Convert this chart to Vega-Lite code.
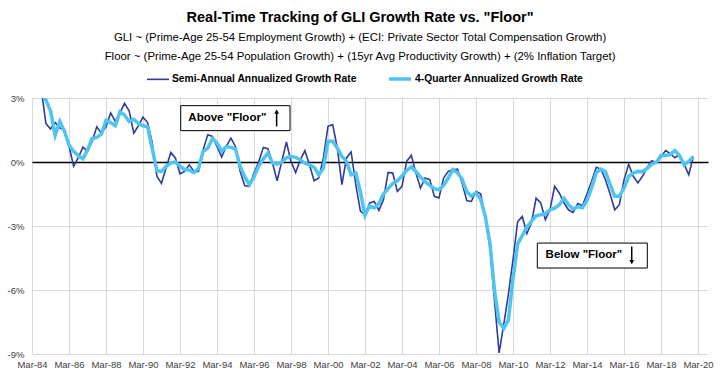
{
  "$schema": "https://vega.github.io/schema/vega-lite/v6.json",
  "width": 676,
  "height": 256,
  "autosize": {"type": "none"},
  "padding": {"left": 32, "top": 98, "right": 12, "bottom": 23},
  "background": "white",
  "config": {"view": {"stroke": null}, "font": "Liberation Sans"},
  "title": {
    "text": "Real-Time Tracking of GLI Growth Rate vs. \"Floor\"",
    "subtitle": ["GLI ~ (Prime-Age 25-54 Employment Growth) + (ECI: Private Sector Total Compensation Growth)", "Floor ~ (Prime-Age 25-54 Population Growth) + (15yr Avg Productivity Growth) + (2% Inflation Target)"],
    "font": "Liberation Sans",
    "fontSize": 14.5,
    "fontWeight": "bold",
    "color": "#000000",
    "subtitleFont": "Liberation Sans",
    "subtitleFontSize": 11.4,
    "subtitleColor": "#000000",
    "subtitleLineHeight": 18.5,
    "subtitlePadding": 7,
    "anchor": "middle",
    "frame": "bounds",
    "offset": 3
  },
  "datasets": {
    "gli": [
      {"date": "1984-09-01", "Semi-Annual Annualized Growth Rate": 3.4, "4-Quarter Annualized Growth Rate": 3.2},
      {"date": "1984-12-01", "Semi-Annual Annualized Growth Rate": 1.8, "4-Quarter Annualized Growth Rate": 2.9},
      {"date": "1985-03-01", "Semi-Annual Annualized Growth Rate": 1.55, "4-Quarter Annualized Growth Rate": 2.4},
      {"date": "1985-06-01", "Semi-Annual Annualized Growth Rate": 1.85, "4-Quarter Annualized Growth Rate": 1.25},
      {"date": "1985-09-01", "Semi-Annual Annualized Growth Rate": 1.6, "4-Quarter Annualized Growth Rate": 1.9},
      {"date": "1985-12-01", "Semi-Annual Annualized Growth Rate": 1.5, "4-Quarter Annualized Growth Rate": 1.45},
      {"date": "1986-03-01", "Semi-Annual Annualized Growth Rate": 0.75, "4-Quarter Annualized Growth Rate": 0.8},
      {"date": "1986-06-01", "Semi-Annual Annualized Growth Rate": -0.2, "4-Quarter Annualized Growth Rate": 0.5},
      {"date": "1986-09-01", "Semi-Annual Annualized Growth Rate": 0.2, "4-Quarter Annualized Growth Rate": 0.3},
      {"date": "1986-12-01", "Semi-Annual Annualized Growth Rate": 0.7, "4-Quarter Annualized Growth Rate": 0.15},
      {"date": "1987-03-01", "Semi-Annual Annualized Growth Rate": 0.5, "4-Quarter Annualized Growth Rate": 0.55},
      {"date": "1987-06-01", "Semi-Annual Annualized Growth Rate": 0.95, "4-Quarter Annualized Growth Rate": 1.1},
      {"date": "1987-09-01", "Semi-Annual Annualized Growth Rate": 1.65, "4-Quarter Annualized Growth Rate": 1.15},
      {"date": "1987-12-01", "Semi-Annual Annualized Growth Rate": 1.35, "4-Quarter Annualized Growth Rate": 1.3},
      {"date": "1988-03-01", "Semi-Annual Annualized Growth Rate": 1.65, "4-Quarter Annualized Growth Rate": 1.95},
      {"date": "1988-06-01", "Semi-Annual Annualized Growth Rate": 2.3, "4-Quarter Annualized Growth Rate": 1.85},
      {"date": "1988-09-01", "Semi-Annual Annualized Growth Rate": 1.9, "4-Quarter Annualized Growth Rate": 1.7},
      {"date": "1988-12-01", "Semi-Annual Annualized Growth Rate": 2.3, "4-Quarter Annualized Growth Rate": 2.35},
      {"date": "1989-03-01", "Semi-Annual Annualized Growth Rate": 2.75, "4-Quarter Annualized Growth Rate": 2.2},
      {"date": "1989-06-01", "Semi-Annual Annualized Growth Rate": 2.4, "4-Quarter Annualized Growth Rate": 1.9},
      {"date": "1989-09-01", "Semi-Annual Annualized Growth Rate": 1.35, "4-Quarter Annualized Growth Rate": 2.0},
      {"date": "1989-12-01", "Semi-Annual Annualized Growth Rate": 1.7, "4-Quarter Annualized Growth Rate": 1.8},
      {"date": "1990-03-01", "Semi-Annual Annualized Growth Rate": 2.1, "4-Quarter Annualized Growth Rate": 1.7},
      {"date": "1990-06-01", "Semi-Annual Annualized Growth Rate": 1.85, "4-Quarter Annualized Growth Rate": 1.65},
      {"date": "1990-09-01", "Semi-Annual Annualized Growth Rate": 0.9, "4-Quarter Annualized Growth Rate": 0.6},
      {"date": "1990-12-01", "Semi-Annual Annualized Growth Rate": -0.67, "4-Quarter Annualized Growth Rate": -0.4},
      {"date": "1991-03-01", "Semi-Annual Annualized Growth Rate": -1.0, "4-Quarter Annualized Growth Rate": -0.45},
      {"date": "1991-06-01", "Semi-Annual Annualized Growth Rate": -0.28, "4-Quarter Annualized Growth Rate": -0.2},
      {"date": "1991-09-01", "Semi-Annual Annualized Growth Rate": 0.45, "4-Quarter Annualized Growth Rate": -0.05},
      {"date": "1991-12-01", "Semi-Annual Annualized Growth Rate": 0.19, "4-Quarter Annualized Growth Rate": 0.0},
      {"date": "1992-03-01", "Semi-Annual Annualized Growth Rate": -0.55, "4-Quarter Annualized Growth Rate": -0.2},
      {"date": "1992-06-01", "Semi-Annual Annualized Growth Rate": -0.44, "4-Quarter Annualized Growth Rate": -0.35},
      {"date": "1992-09-01", "Semi-Annual Annualized Growth Rate": -0.13, "4-Quarter Annualized Growth Rate": -0.38},
      {"date": "1992-12-01", "Semi-Annual Annualized Growth Rate": -0.44, "4-Quarter Annualized Growth Rate": -0.5},
      {"date": "1993-03-01", "Semi-Annual Annualized Growth Rate": -0.44, "4-Quarter Annualized Growth Rate": -0.3},
      {"date": "1993-06-01", "Semi-Annual Annualized Growth Rate": 0.58, "4-Quarter Annualized Growth Rate": 0.5},
      {"date": "1993-09-01", "Semi-Annual Annualized Growth Rate": 1.28, "4-Quarter Annualized Growth Rate": 0.65},
      {"date": "1993-12-01", "Semi-Annual Annualized Growth Rate": 1.2, "4-Quarter Annualized Growth Rate": 1.1},
      {"date": "1994-03-01", "Semi-Annual Annualized Growth Rate": 0.73, "4-Quarter Annualized Growth Rate": 0.9},
      {"date": "1994-06-01", "Semi-Annual Annualized Growth Rate": 0.23, "4-Quarter Annualized Growth Rate": 0.5},
      {"date": "1994-09-01", "Semi-Annual Annualized Growth Rate": 0.73, "4-Quarter Annualized Growth Rate": 0.72},
      {"date": "1994-12-01", "Semi-Annual Annualized Growth Rate": 1.12, "4-Quarter Annualized Growth Rate": 0.68},
      {"date": "1995-03-01", "Semi-Annual Annualized Growth Rate": 0.73, "4-Quarter Annualized Growth Rate": 0.62},
      {"date": "1995-06-01", "Semi-Annual Annualized Growth Rate": -0.44, "4-Quarter Annualized Growth Rate": -0.2},
      {"date": "1995-09-01", "Semi-Annual Annualized Growth Rate": -1.11, "4-Quarter Annualized Growth Rate": -0.7},
      {"date": "1995-12-01", "Semi-Annual Annualized Growth Rate": -1.14, "4-Quarter Annualized Growth Rate": -1.05},
      {"date": "1996-03-01", "Semi-Annual Annualized Growth Rate": -0.52, "4-Quarter Annualized Growth Rate": -0.7},
      {"date": "1996-06-01", "Semi-Annual Annualized Growth Rate": 0.0, "4-Quarter Annualized Growth Rate": -0.2},
      {"date": "1996-09-01", "Semi-Annual Annualized Growth Rate": 0.68, "4-Quarter Annualized Growth Rate": 0.15},
      {"date": "1996-12-01", "Semi-Annual Annualized Growth Rate": 0.62, "4-Quarter Annualized Growth Rate": 0.42},
      {"date": "1997-03-01", "Semi-Annual Annualized Growth Rate": -0.05, "4-Quarter Annualized Growth Rate": -0.05},
      {"date": "1997-06-01", "Semi-Annual Annualized Growth Rate": -0.88, "4-Quarter Annualized Growth Rate": -0.1},
      {"date": "1997-09-01", "Semi-Annual Annualized Growth Rate": 0.03, "4-Quarter Annualized Growth Rate": 0.0},
      {"date": "1997-12-01", "Semi-Annual Annualized Growth Rate": 0.94, "4-Quarter Annualized Growth Rate": 0.2},
      {"date": "1998-03-01", "Semi-Annual Annualized Growth Rate": 0.03, "4-Quarter Annualized Growth Rate": 0.26},
      {"date": "1998-06-01", "Semi-Annual Annualized Growth Rate": -0.49, "4-Quarter Annualized Growth Rate": 0.22},
      {"date": "1998-09-01", "Semi-Annual Annualized Growth Rate": 0.1, "4-Quarter Annualized Growth Rate": 0.1},
      {"date": "1998-12-01", "Semi-Annual Annualized Growth Rate": 0.53, "4-Quarter Annualized Growth Rate": -0.05},
      {"date": "1999-03-01", "Semi-Annual Annualized Growth Rate": -0.13, "4-Quarter Annualized Growth Rate": -0.13},
      {"date": "1999-06-01", "Semi-Annual Annualized Growth Rate": -0.88, "4-Quarter Annualized Growth Rate": -0.25},
      {"date": "1999-09-01", "Semi-Annual Annualized Growth Rate": -0.75, "4-Quarter Annualized Growth Rate": -0.6},
      {"date": "1999-12-01", "Semi-Annual Annualized Growth Rate": 0.19, "4-Quarter Annualized Growth Rate": -0.3},
      {"date": "2000-03-01", "Semi-Annual Annualized Growth Rate": 1.67, "4-Quarter Annualized Growth Rate": 0.97},
      {"date": "2000-06-01", "Semi-Annual Annualized Growth Rate": 1.75, "4-Quarter Annualized Growth Rate": 0.97},
      {"date": "2000-09-01", "Semi-Annual Annualized Growth Rate": 0.66, "4-Quarter Annualized Growth Rate": 0.66},
      {"date": "2000-12-01", "Semi-Annual Annualized Growth Rate": -1.06, "4-Quarter Annualized Growth Rate": 0.26},
      {"date": "2001-03-01", "Semi-Annual Annualized Growth Rate": 0.19, "4-Quarter Annualized Growth Rate": 0.03},
      {"date": "2001-06-01", "Semi-Annual Annualized Growth Rate": 0.47, "4-Quarter Annualized Growth Rate": -0.6},
      {"date": "2001-09-01", "Semi-Annual Annualized Growth Rate": -1.06, "4-Quarter Annualized Growth Rate": -0.52},
      {"date": "2001-12-01", "Semi-Annual Annualized Growth Rate": -2.3, "4-Quarter Annualized Growth Rate": -1.4},
      {"date": "2002-03-01", "Semi-Annual Annualized Growth Rate": -2.47, "4-Quarter Annualized Growth Rate": -2.5},
      {"date": "2002-06-01", "Semi-Annual Annualized Growth Rate": -1.92, "4-Quarter Annualized Growth Rate": -2.05},
      {"date": "2002-09-01", "Semi-Annual Annualized Growth Rate": -1.85, "4-Quarter Annualized Growth Rate": -2.15},
      {"date": "2002-12-01", "Semi-Annual Annualized Growth Rate": -2.27, "4-Quarter Annualized Growth Rate": -1.95},
      {"date": "2003-03-01", "Semi-Annual Annualized Growth Rate": -1.77, "4-Quarter Annualized Growth Rate": -1.5},
      {"date": "2003-06-01", "Semi-Annual Annualized Growth Rate": -0.49, "4-Quarter Annualized Growth Rate": -1.25},
      {"date": "2003-09-01", "Semi-Annual Annualized Growth Rate": -0.52, "4-Quarter Annualized Growth Rate": -1.0},
      {"date": "2003-12-01", "Semi-Annual Annualized Growth Rate": -1.38, "4-Quarter Annualized Growth Rate": -0.88},
      {"date": "2004-03-01", "Semi-Annual Annualized Growth Rate": -1.14, "4-Quarter Annualized Growth Rate": -0.65},
      {"date": "2004-06-01", "Semi-Annual Annualized Growth Rate": 0.03, "4-Quarter Annualized Growth Rate": -0.4},
      {"date": "2004-09-01", "Semi-Annual Annualized Growth Rate": 0.31, "4-Quarter Annualized Growth Rate": -0.23},
      {"date": "2004-12-01", "Semi-Annual Annualized Growth Rate": -0.52, "4-Quarter Annualized Growth Rate": -0.44},
      {"date": "2005-03-01", "Semi-Annual Annualized Growth Rate": -1.22, "4-Quarter Annualized Growth Rate": -0.7},
      {"date": "2005-06-01", "Semi-Annual Annualized Growth Rate": -0.75, "4-Quarter Annualized Growth Rate": -0.92},
      {"date": "2005-09-01", "Semi-Annual Annualized Growth Rate": -0.83, "4-Quarter Annualized Growth Rate": -1.1},
      {"date": "2005-12-01", "Semi-Annual Annualized Growth Rate": -1.61, "4-Quarter Annualized Growth Rate": -1.25},
      {"date": "2006-03-01", "Semi-Annual Annualized Growth Rate": -1.69, "4-Quarter Annualized Growth Rate": -1.3},
      {"date": "2006-06-01", "Semi-Annual Annualized Growth Rate": -0.75, "4-Quarter Annualized Growth Rate": -1.1},
      {"date": "2006-09-01", "Semi-Annual Annualized Growth Rate": -0.44, "4-Quarter Annualized Growth Rate": -0.75},
      {"date": "2006-12-01", "Semi-Annual Annualized Growth Rate": -0.36, "4-Quarter Annualized Growth Rate": -0.35},
      {"date": "2007-03-01", "Semi-Annual Annualized Growth Rate": -0.33, "4-Quarter Annualized Growth Rate": -0.5},
      {"date": "2007-06-01", "Semi-Annual Annualized Growth Rate": -0.98, "4-Quarter Annualized Growth Rate": -0.8},
      {"date": "2007-09-01", "Semi-Annual Annualized Growth Rate": -1.81, "4-Quarter Annualized Growth Rate": -1.4},
      {"date": "2007-12-01", "Semi-Annual Annualized Growth Rate": -1.85, "4-Quarter Annualized Growth Rate": -1.6},
      {"date": "2008-03-01", "Semi-Annual Annualized Growth Rate": -1.38, "4-Quarter Annualized Growth Rate": -1.45},
      {"date": "2008-06-01", "Semi-Annual Annualized Growth Rate": -1.49, "4-Quarter Annualized Growth Rate": -1.75},
      {"date": "2008-09-01", "Semi-Annual Annualized Growth Rate": -2.6, "4-Quarter Annualized Growth Rate": -2.55},
      {"date": "2008-12-01", "Semi-Annual Annualized Growth Rate": -4.0, "4-Quarter Annualized Growth Rate": -3.8},
      {"date": "2009-03-01", "Semi-Annual Annualized Growth Rate": -6.5, "4-Quarter Annualized Growth Rate": -6.0},
      {"date": "2009-06-01", "Semi-Annual Annualized Growth Rate": -8.95, "4-Quarter Annualized Growth Rate": -7.5},
      {"date": "2009-09-01", "Semi-Annual Annualized Growth Rate": -7.6, "4-Quarter Annualized Growth Rate": -7.8},
      {"date": "2009-12-01", "Semi-Annual Annualized Growth Rate": -6.2, "4-Quarter Annualized Growth Rate": -7.4},
      {"date": "2010-03-01", "Semi-Annual Annualized Growth Rate": -4.6, "4-Quarter Annualized Growth Rate": -5.5},
      {"date": "2010-06-01", "Semi-Annual Annualized Growth Rate": -2.8, "4-Quarter Annualized Growth Rate": -3.85},
      {"date": "2010-09-01", "Semi-Annual Annualized Growth Rate": -2.55, "4-Quarter Annualized Growth Rate": -3.45},
      {"date": "2010-12-01", "Semi-Annual Annualized Growth Rate": -3.35, "4-Quarter Annualized Growth Rate": -3.05},
      {"date": "2011-03-01", "Semi-Annual Annualized Growth Rate": -2.86, "4-Quarter Annualized Growth Rate": -2.78},
      {"date": "2011-06-01", "Semi-Annual Annualized Growth Rate": -1.7, "4-Quarter Annualized Growth Rate": -2.52},
      {"date": "2011-09-01", "Semi-Annual Annualized Growth Rate": -1.92, "4-Quarter Annualized Growth Rate": -2.47},
      {"date": "2011-12-01", "Semi-Annual Annualized Growth Rate": -2.7, "4-Quarter Annualized Growth Rate": -2.42},
      {"date": "2012-03-01", "Semi-Annual Annualized Growth Rate": -2.24, "4-Quarter Annualized Growth Rate": -2.24},
      {"date": "2012-06-01", "Semi-Annual Annualized Growth Rate": -1.14, "4-Quarter Annualized Growth Rate": -2.16},
      {"date": "2012-09-01", "Semi-Annual Annualized Growth Rate": -1.45, "4-Quarter Annualized Growth Rate": -2.0},
      {"date": "2012-12-01", "Semi-Annual Annualized Growth Rate": -1.92, "4-Quarter Annualized Growth Rate": -1.7},
      {"date": "2013-03-01", "Semi-Annual Annualized Growth Rate": -2.24, "4-Quarter Annualized Growth Rate": -2.0},
      {"date": "2013-06-01", "Semi-Annual Annualized Growth Rate": -2.36, "4-Quarter Annualized Growth Rate": -2.2},
      {"date": "2013-09-01", "Semi-Annual Annualized Growth Rate": -1.95, "4-Quarter Annualized Growth Rate": -2.1},
      {"date": "2013-12-01", "Semi-Annual Annualized Growth Rate": -2.05, "4-Quarter Annualized Growth Rate": -2.15},
      {"date": "2014-03-01", "Semi-Annual Annualized Growth Rate": -1.5, "4-Quarter Annualized Growth Rate": -1.8},
      {"date": "2014-06-01", "Semi-Annual Annualized Growth Rate": -0.9, "4-Quarter Annualized Growth Rate": -1.2},
      {"date": "2014-09-01", "Semi-Annual Annualized Growth Rate": -0.25, "4-Quarter Annualized Growth Rate": -0.5},
      {"date": "2014-12-01", "Semi-Annual Annualized Growth Rate": -0.33, "4-Quarter Annualized Growth Rate": -0.33},
      {"date": "2015-03-01", "Semi-Annual Annualized Growth Rate": -0.83, "4-Quarter Annualized Growth Rate": -0.45},
      {"date": "2015-06-01", "Semi-Annual Annualized Growth Rate": -1.5, "4-Quarter Annualized Growth Rate": -1.05},
      {"date": "2015-09-01", "Semi-Annual Annualized Growth Rate": -2.24, "4-Quarter Annualized Growth Rate": -1.6},
      {"date": "2015-12-01", "Semi-Annual Annualized Growth Rate": -2.0, "4-Quarter Annualized Growth Rate": -1.6},
      {"date": "2016-03-01", "Semi-Annual Annualized Growth Rate": -0.85, "4-Quarter Annualized Growth Rate": -1.22},
      {"date": "2016-06-01", "Semi-Annual Annualized Growth Rate": -0.1, "4-Quarter Annualized Growth Rate": -0.67},
      {"date": "2016-09-01", "Semi-Annual Annualized Growth Rate": -0.67, "4-Quarter Annualized Growth Rate": -0.52},
      {"date": "2016-12-01", "Semi-Annual Annualized Growth Rate": -0.98, "4-Quarter Annualized Growth Rate": -0.44},
      {"date": "2017-03-01", "Semi-Annual Annualized Growth Rate": -0.67, "4-Quarter Annualized Growth Rate": -0.45},
      {"date": "2017-06-01", "Semi-Annual Annualized Growth Rate": -0.25, "4-Quarter Annualized Growth Rate": -0.3},
      {"date": "2017-09-01", "Semi-Annual Annualized Growth Rate": 0.06, "4-Quarter Annualized Growth Rate": -0.1},
      {"date": "2017-12-01", "Semi-Annual Annualized Growth Rate": -0.02, "4-Quarter Annualized Growth Rate": -0.02},
      {"date": "2018-03-01", "Semi-Annual Annualized Growth Rate": 0.25, "4-Quarter Annualized Growth Rate": 0.3},
      {"date": "2018-06-01", "Semi-Annual Annualized Growth Rate": 0.54, "4-Quarter Annualized Growth Rate": 0.3},
      {"date": "2018-09-01", "Semi-Annual Annualized Growth Rate": 0.39, "4-Quarter Annualized Growth Rate": 0.35},
      {"date": "2018-12-01", "Semi-Annual Annualized Growth Rate": 0.2, "4-Quarter Annualized Growth Rate": 0.54},
      {"date": "2019-03-01", "Semi-Annual Annualized Growth Rate": 0.35, "4-Quarter Annualized Growth Rate": 0.3},
      {"date": "2019-06-01", "Semi-Annual Annualized Growth Rate": -0.1, "4-Quarter Annualized Growth Rate": -0.13},
      {"date": "2019-09-01", "Semi-Annual Annualized Growth Rate": -0.6, "4-Quarter Annualized Growth Rate": 0.03},
      {"date": "2019-12-01", "Semi-Annual Annualized Growth Rate": 0.26, "4-Quarter Annualized Growth Rate": 0.26}
    ],
    "boxes": [
      {"date": "1992-03-15", "date2": "1998-02-10", "value": 2.64, "value2": 1.47},
      {"date": "2011-06-25", "date2": "2017-06-05", "value": -3.8, "value2": -4.97}
    ],
    "labels": [
      {"date": "1992-08-13", "value": 2.06, "label": "Above \"Floor\""},
      {"date": "2011-12-05", "value": -4.38, "label": "Below \"Floor\""}
    ],
    "arrows": [
      {"date": "1997-05-22", "value": 1.67, "value2": 2.42, "head": 2.36, "dir": "up"},
      {"date": "2016-08-01", "value": -3.96, "value2": -4.75, "head": -4.69, "dir": "down"}
    ]
  },
  "encoding": {
    "x": {
      "field": "date", "type": "temporal", "title": null,
      "scale": {"type": "utc", "domain": ["1984-03-01", "2020-09-15"]},
      "axis": {
        "values": [
          {"year": 1984, "month": 3, "date": 1, "utc": true},
          {"year": 1986, "month": 3, "date": 1, "utc": true},
          {"year": 1988, "month": 3, "date": 1, "utc": true},
          {"year": 1990, "month": 3, "date": 1, "utc": true},
          {"year": 1992, "month": 3, "date": 1, "utc": true},
          {"year": 1994, "month": 3, "date": 1, "utc": true},
          {"year": 1996, "month": 3, "date": 1, "utc": true},
          {"year": 1998, "month": 3, "date": 1, "utc": true},
          {"year": 2000, "month": 3, "date": 1, "utc": true},
          {"year": 2002, "month": 3, "date": 1, "utc": true},
          {"year": 2004, "month": 3, "date": 1, "utc": true},
          {"year": 2006, "month": 3, "date": 1, "utc": true},
          {"year": 2008, "month": 3, "date": 1, "utc": true},
          {"year": 2010, "month": 3, "date": 1, "utc": true},
          {"year": 2012, "month": 3, "date": 1, "utc": true},
          {"year": 2014, "month": 3, "date": 1, "utc": true},
          {"year": 2016, "month": 3, "date": 1, "utc": true},
          {"year": 2018, "month": 3, "date": 1, "utc": true},
          {"year": 2020, "month": 3, "date": 1, "utc": true}
        ],
        "format": "%b-%y",
        "domain": false,
        "ticks": false,
        "grid": true,
        "gridColor": "#d9d9d9",
        "labelFont": "Liberation Sans",
        "labelFontSize": 9.5,
        "labelColor": "#404040",
        "labelPadding": 5,
        "labelOverlap": false,
        "labelFlush": false
      }
    },
    "y": {
      "field": "value", "type": "quantitative", "title": null,
      "scale": {"domain": [-9, 3], "nice": false, "zero": false},
      "axis": {
        "values": [-9, -6, -3, 0, 3],
        "labelExpr": "datum.value + '%'",
        "domain": false,
        "ticks": false,
        "grid": true,
        "gridColor": {"condition": {"test": "datum.value === 0", "value": "#000000"}, "value": "#d9d9d9"},
        "gridWidth": {"condition": {"test": "datum.value === 0", "value": 1.5}, "value": 1},
        "labelFont": "Liberation Sans",
        "labelFontSize": 9.5,
        "labelColor": "#404040",
        "labelPadding": 8
      }
    }
  },
  "layer": [
    {
      "data": {"name": "gli"},
      "transform": [{"fold": ["Semi-Annual Annualized Growth Rate", "4-Quarter Annualized Growth Rate"], "as": ["series", "value"]}],
      "mark": {"type": "line", "clip": true},
      "encoding": {
        "color": {
          "field": "series",
          "type": "nominal",
          "scale": {"domain": ["Semi-Annual Annualized Growth Rate", "4-Quarter Annualized Growth Rate"], "range": ["#2E3C9C", "#4EC4F0"]},
          "legend": {
            "orient": "none",
            "legendX": 114,
            "legendY": -32,
            "direction": "horizontal",
            "title": null,
            "symbolType": "stroke",
            "symbolSize": 484,
            "symbolStrokeWidth": 2,
            "labelFont": "Liberation Sans",
            "labelFontSize": 10.3,
            "labelFontWeight": "bold",
            "labelColor": "#000000",
            "labelLimit": 400,
            "labelOffset": 2,
            "columnPadding": 25,
            "encode": {"symbols": {"update": {"strokeWidth": {"signal": "datum.value === 'Semi-Annual Annualized Growth Rate' ? 2 : 4"}}}}
          }
        },
        "strokeWidth": {
          "field": "series",
          "type": "nominal",
          "scale": {"domain": ["Semi-Annual Annualized Growth Rate", "4-Quarter Annualized Growth Rate"], "range": [1.6, 3.5]},
          "legend": null
        }
      }
    },
    {
      "data": {"name": "boxes"},
      "mark": {"type": "rect", "fill": "white", "stroke": "#000000", "strokeWidth": 1},
      "encoding": {
        "x2": {"field": "date2"},
        "y2": {"field": "value2"}
      }
    },
    {
      "data": {"name": "labels"},
      "mark": {"type": "text", "font": "Liberation Sans", "fontWeight": "bold", "fontSize": 11.5, "align": "left", "baseline": "middle", "color": "#000000"},
      "encoding": {
        "text": {"field": "label"}
      }
    },
    {
      "data": {"name": "arrows"},
      "mark": {"type": "rule", "color": "#000000", "strokeWidth": 1.5},
      "encoding": {
        "y2": {"field": "value2"}
      }
    },
    {
      "data": {"name": "arrows"},
      "mark": {"type": "point", "filled": true, "color": "#000000", "size": 22, "opacity": 1},
      "encoding": {
        "y": {"field": "head", "type": "quantitative"},
        "shape": {"field": "dir", "type": "nominal", "scale": {"domain": ["up", "down"], "range": ["triangle-up", "triangle-down"]}, "legend": null}
      }
    }
  ]
}
